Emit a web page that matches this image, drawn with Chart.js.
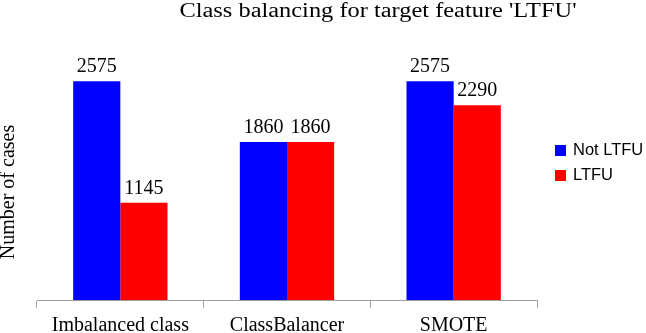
<!DOCTYPE html>
<html>
<head>
<meta charset="utf-8">
<script src="https://cdn.jsdelivr.net/npm/chart.js@4"></script>
<style>
  html, body { margin: 0; padding: 0; background: #fff; }
  #wrap { width: 646px; height: 333px; }
</style>
</head>
<body>
<div id="wrap"><canvas id="balance-chart"></canvas></div>
<script>
const categories = ['Imbalanced class', 'ClassBalancer', 'SMOTE'];
const seriesNames = ['Not LTFU', 'LTFU'];
const notLtfu = [2575, 1860, 2575];
const ltfu = [1145, 1860, 2290];
const chartTitle = "Class balancing for target feature 'LTFU'";
const yTitle = 'Number of cases';

const serif = '"Liberation Serif", "Times New Roman", serif';

// title, y title, value labels and legend drawn by hand
const extras = {
    id: 'extras',
    afterDraw(chart) {
        const ctx = chart.ctx;
        const area = chart.chartArea;
        ctx.save();
        ctx.fillStyle = '#000';

        // title, a little wide like the original
        ctx.save();
        ctx.font = '20px ' + serif;
        ctx.textAlign = 'center';
        ctx.textBaseline = 'alphabetic';
        ctx.translate(378, 17);
        ctx.scale(1.22, 1);
        ctx.fillText(chartTitle, 0, 0);
        ctx.restore();

        // y axis title
        ctx.save();
        ctx.font = '20px ' + serif;
        ctx.textAlign = 'center';
        ctx.textBaseline = 'alphabetic';
        ctx.translate(14, 192);
        ctx.rotate(-Math.PI / 2);
        ctx.fillText(yTitle, 0, 0);
        ctx.restore();

        // values above the bars
        ctx.font = '20px ' + serif;
        ctx.textAlign = 'center';
        ctx.textBaseline = 'alphabetic';
        chart.data.datasets.forEach((ds, i) => {
            chart.getDatasetMeta(i).data.forEach((bar, j) => {
                ctx.fillText(ds.data[j], bar.x, bar.y - 9);
            });
        });

        // legend
        ctx.font = '16.5px "Liberation Sans", Arial, sans-serif';
        ctx.textAlign = 'left';
        chart.data.datasets.forEach((ds, i) => {
            const y = 156 + i * 25;
            ctx.fillStyle = ds.backgroundColor;
            ctx.fillRect(555, y - 11, 11, 11);
            ctx.fillStyle = '#000';
            ctx.fillText(ds.label, 573, y - 1);
        });
        ctx.restore();
    }
};

new Chart(document.getElementById('balance-chart'), {
    type: 'bar',
    data: {
        labels: categories,
        datasets: [
            { label: seriesNames[0], data: notLtfu, backgroundColor: '#0000ff' },
            { label: seriesNames[1], data: ltfu, backgroundColor: '#ff0000' }
        ]
    },
    options: {
        responsive: true,
        maintainAspectRatio: false,
        animation: false,
        layout: { padding: { top: 45, right: 109, left: 0, bottom: 0 } },
        datasets: { bar: { categoryPercentage: 0.566, barPercentage: 1 } },
        plugins: {
            legend: { display: false },
            title: { display: false },
            tooltip: { enabled: false }
        },
        scales: {
            x: {
                afterFit(scale) { scale.height = 33; },
                grid: { offset: true, drawOnChartArea: false, drawTicks: true, tickLength: 8, color: '#a0a0a0' },
                border: { color: '#a0a0a0' },
                ticks: { color: '#000', font: { family: serif, size: 20 }, padding: 6 }
            },
            y: {
                min: 0,
                max: 3000,
                afterFit(scale) { scale.width = 37; },
                grid: { display: false },
                border: { display: false },
                ticks: { display: false }
            }
        }
    },
    plugins: [extras]
});
</script>
</body>
</html>
